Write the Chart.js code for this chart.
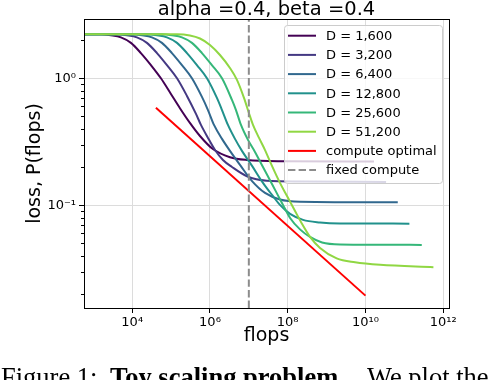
<!DOCTYPE html>
<html>
<head>
<meta charset="utf-8">
<script src="https://cdn.jsdelivr.net/npm/chart.js@4.4.1/dist/chart.umd.min.js"></script>
<style>
  html, body { margin: 0; padding: 0; background: #fff; overflow: hidden; }
  #wrap { position: relative; width: 492px; height: 380px; overflow: hidden; }
  .cap {
    position: absolute; top: 364px;
    font: 26.5px "Liberation Serif", "Times New Roman", serif;
    line-height: 26.5px; white-space: nowrap; color: #000;
  }
</style>
</head>
<body>
<div id="wrap">
  <canvas id="chart" width="492" height="380"></canvas>
  <div class="cap" style="left:1px">Figure 1:</div>
  <div class="cap" style="left:110px"><b>Toy scaling problem.</b></div>
  <div class="cap" style="left:367px">We plot the</div>
</div>
<script>
(function () {
  "use strict";

  // ---- data ----
  const chartTitle = "alpha =0.4, beta =0.4";
  const seriesLabels = ["D = 1,600", "D = 3,200", "D = 6,400", "D = 12,800", "D = 25,600", "D = 51,200"];
  const seriesColors = ["#440154", "#443983", "#31688e", "#21918c", "#35b779", "#90d743"];

  // [flops, loss]
  const lossD1600 = [[5.75e2, 2.22], [1.56e3, 2.22], [2.83e3, 2.18], [5.12e3, 2.1], [9.27e3, 1.9], [1.67e4, 1.58],
    [3.03e4, 1.27], [5.48e4, 1.0], [9.91e4, 0.752], [1.69e5, 0.581], [3.05e5, 0.445], [5.53e5, 0.351],
    [1.19e6, 0.277], [3.27e6, 0.239], [8.95e6, 0.227], [6.32e7, 0.222], [1.66e10, 0.221]];
  const lossD3200 = [[5.75e2, 2.22], [4.04e3, 2.22], [7.31e3, 2.18], [1.32e4, 2.1], [2.39e4, 1.9], [4.33e4, 1.58],
    [7.82e4, 1.27], [1.42e5, 1.0], [2.56e5, 0.726], [4.37e5, 0.524], [5.86e5, 0.429], [8.89e5, 0.339],
    [1.35e6, 0.272], [2.16e6, 0.227], [3.68e6, 0.2], [8.95e6, 0.169], [2.88e7, 0.156], [2.07e8, 0.154],
    [3.39e10, 0.1526]];
  const lossD6400 = [[5.75e2, 2.22], [9.82e3, 2.22], [1.78e4, 2.18], [3.21e4, 2.1], [5.81e4, 1.9], [1.05e5, 1.58],
    [1.9e5, 1.27], [3.44e5, 1.0], [6.22e5, 0.713], [8.89e5, 0.562], [1.27e6, 0.429], [2.04e6, 0.333],
    [3.27e6, 0.268], [5.92e6, 0.208], [1.21e7, 0.155], [2.61e7, 0.125], [6.32e7, 0.111], [2.07e8, 0.1067],
    [6.78e10, 0.1056]];
  const lossD12800 = [[5.75e2, 2.22], [2.39e4, 2.22], [4.33e4, 2.18], [7.82e4, 2.1], [1.42e5, 1.9], [2.56e5, 1.58],
    [4.62e5, 1.27], [8.37e5, 1.0], [1.51e6, 0.7], [2.04e6, 0.562], [2.9e6, 0.429], [4.4e6, 0.333], [6.65e6, 0.268],
    [1.21e7, 0.204], [2.31e7, 0.15], [3.94e7, 0.1206], [6.32e7, 0.1005], [1.15e8, 0.0854], [2.48e8, 0.0766],
    [6.78e8, 0.0732], [2.22e9, 0.0719], [1.35e11, 0.0716]];
  const lossD25600 = [[5.75e2, 2.22], [5.81e4, 2.22], [1.05e5, 2.18], [1.9e5, 2.1], [3.44e5, 1.9], [6.22e5, 1.58],
    [1.12e6, 1.27], [2.04e6, 1.0], [3.68e6, 0.675], [4.67e6, 0.562], [6.28e6, 0.429], [9.51e6, 0.327],
    [1.44e7, 0.263], [2.31e7, 0.2], [3.94e7, 0.147], [7.57e7, 0.1005], [1.15e8, 0.0794], [2.07e8, 0.0645],
    [3.75e8, 0.0563], [7.64e8, 0.0509], [2.22e9, 0.0491], [2.81e11, 0.0487]];
  const lossD51200 = [[5.75e2, 2.22], [1.42e5, 2.22], [3.05e5, 2.173], [5.53e5, 2.057], [1e6, 1.83], [1.81e6, 1.525],
    [3.27e6, 1.205], [4.95e6, 0.97], [7.5e6, 0.7], [1.01e7, 0.53], [1.28e7, 0.429], [1.83e7, 0.339],
    [2.61e7, 0.272], [3.94e7, 0.204], [6.32e7, 0.15], [9.59e7, 0.1183], [1.45e8, 0.0935], [2.33e8, 0.0713],
    [3.75e8, 0.0563], [6.78e8, 0.0461], [1.82e9, 0.0381], [5.4e9, 0.0355], [2.38e10, 0.0339], [5.6e11, 0.0325]];
  const lossSeries = [lossD1600, lossD3200, lossD6400, lossD12800, lossD25600, lossD51200];

  const computeOptimal = [[4.07e4, 0.587], [1e10, 0.0194]];
  const fixedComputeFlops = 1e7;

  const xRange = [5.75e2, 1.41e12];
  const yRange = [0.0155, 2.93];
  const xTickValues = [1e4, 1e6, 1e8, 1e10, 1e12];
  const xTickLabels = ["10\u2074", "10\u2076", "10\u2078", "10\u00b9\u2070", "10\u00b9\u00b2"];
  const yTickValues = [0.1, 1];
  const yTickLabels = ["10\u207b\u00b9", "10\u2070"];
  const yMinorTicks = [0.02, 0.03, 0.04, 0.05, 0.06, 0.07, 0.08, 0.09, 0.2, 0.3, 0.4, 0.5, 0.6, 0.7, 0.8, 0.9, 2];

  const FONT = "'DejaVu Sans', sans-serif";

  const datasets = lossSeries.map((pts, i) => ({
    label: seriesLabels[i],
    data: pts,
    borderColor: seriesColors[i],
    borderWidth: 2,
    pointRadius: 0,
    cubicInterpolationMode: "monotone"
  }));
  datasets.push({
    label: "compute optimal",
    data: computeOptimal,
    borderColor: "#ff0000",
    borderWidth: 2,
    pointRadius: 0
  });
  datasets.push({
    label: "fixed compute",
    data: [[fixedComputeFlops, yRange[0]], [fixedComputeFlops, yRange[1]]],
    borderColor: "#8c8c8c",
    borderWidth: 2,
    borderDash: [7.4, 3.2],
    pointRadius: 0
  });
  // later series on top, like the original
  datasets.forEach((d, i) => { d.order = datasets.length - i; d.fill = false; });

  // spines, minor ticks, in-axes legend and title
  const decorations = {
    id: "decorations",
    afterDatasetsDraw(chart) {
      const { ctx, chartArea: a, scales } = chart;
      ctx.save();

      ctx.strokeStyle = "#000";
      ctx.lineWidth = 1;
      ctx.strokeRect(Math.round(a.left) + 0.5, Math.round(a.top) + 0.5,
        Math.round(a.right - a.left), Math.round(a.bottom - a.top));

      ctx.beginPath();
      yMinorTicks.forEach(v => {
        const y = Math.round(scales.y.getPixelForValue(v)) + 0.5;
        ctx.moveTo(a.left, y);
        ctx.lineTo(a.left - 3, y);
      });
      ctx.stroke();

      // legend box
      const lx = 284, ly = 25, lw = 158, lh = 158, r = 3;
      ctx.beginPath();
      ctx.roundRect(lx + 0.5, ly + 0.5, lw, lh, r);
      ctx.fillStyle = "rgba(255,255,255,0.8)";
      ctx.fill();
      ctx.strokeStyle = "#cccccc";
      ctx.stroke();

      ctx.font = "13px " + FONT;
      ctx.textBaseline = "middle";
      ctx.textAlign = "left";
      chart.data.datasets.forEach((d, i) => {
        const y = 35.7 + i * 19.2;
        ctx.beginPath();
        ctx.strokeStyle = d.borderColor;
        ctx.lineWidth = d.borderWidth;
        ctx.setLineDash(d.borderDash || []);
        ctx.moveTo(288, y);
        ctx.lineTo(316, y);
        ctx.stroke();
        ctx.setLineDash([]);
        ctx.fillStyle = "#000";
        ctx.fillText(d.label, 326, y + 1);
      });

      ctx.font = "19.5px " + FONT;
      ctx.textAlign = "center";
      ctx.textBaseline = "alphabetic";
      ctx.fillText(chartTitle, (a.left + a.right) / 2, 15);
      ctx.restore();
    }
  };

  new Chart(document.getElementById("chart"), {
    type: "line",
    data: { datasets },
    options: {
      responsive: false,
      animation: false,
      layout: { padding: { left: 0, top: 19, right: 43, bottom: 0 } },
      plugins: { legend: { display: false }, tooltip: { enabled: false } },
      scales: {
        x: {
          type: "logarithmic",
          min: xRange[0],
          max: xRange[1],
          afterBuildTicks: s => { s.ticks = xTickValues.map(v => ({ value: v })); },
          afterFit: s => { s.height = 72; },
          ticks: {
            autoSkip: false, maxRotation: 0, padding: 2, color: "#000",
            font: { family: FONT, size: 13 },
            callback: (v, i) => xTickLabels[i]
          },
          grid: { color: "#dcdcdc", lineWidth: 1, tickColor: "#000", tickLength: 5 },
          border: { display: false },
          title: {
            display: true, text: "flops", color: "#000",
            font: { family: FONT, size: 19 }, padding: { top: 0, bottom: 32.6 }
          }
        },
        y: {
          type: "logarithmic",
          min: yRange[0],
          max: yRange[1],
          afterBuildTicks: s => { s.ticks = yTickValues.map(v => ({ value: v })); },
          afterFit: s => { s.width = 84; },
          ticks: {
            autoSkip: false, padding: 3, color: "#000",
            font: { family: FONT, size: 13 },
            callback: (v, i) => yTickLabels[i]
          },
          grid: { color: "#dcdcdc", lineWidth: 1, tickColor: "#000", tickLength: 5 },
          border: { display: false },
          title: {
            display: true, text: "loss, P(flops)", color: "#000",
            font: { family: FONT, size: 19 }, padding: { top: 23.4, bottom: 0 }
          }
        }
      }
    },
    plugins: [decorations]
  });
})();
</script>
</body>
</html>
